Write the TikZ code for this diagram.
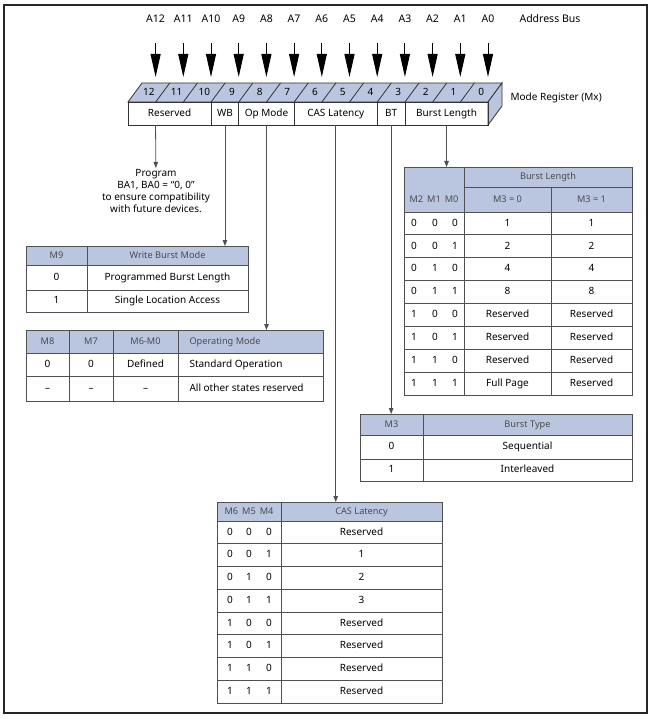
\documentclass[tikz,border=0pt]{standalone}
\usepackage{fontspec}
\setmainfont{Noto Sans}
\usetikzlibrary{arrows.meta, positioning, calc}
\definecolor{regblue}{RGB}{186,198,224}
\definecolor{rulegray}{RGB}{80,80,80}
\definecolor{hdrtext}{RGB}{75,75,75}

\begin{document}
\begin{tikzpicture}[x=1pt, y=-1pt, font=\fontsize{10}{12}\selectfont,
    every node/.style={text height=7.5pt, text depth=2pt},
    addr/.style={font=\fontsize{10.5}{12}\selectfont},
    regcell/.style={draw=black!80, line width=0.8pt, minimum height=23pt, inner sep=0pt, outer sep=0pt},
    tbl/.style={draw=rulegray, line width=0.8pt, inner sep=0pt, outer sep=0pt, anchor=north west},
    hd/.style={text=hdrtext, font=\fontsize{9.2}{11}\selectfont},
    rule/.style={draw=rulegray, line width=0.8pt},
    busline/.style={draw, line width=1pt, -{Triangle[length=23pt,width=10pt]}},
    line/.style={draw=rulegray, line width=0.8pt, -{Triangle[length=6pt,width=4.5pt]}}]

    \useasboundingbox (0,0) rectangle (654,719);
    \draw[line width=2pt, draw=black!85] (4,5) rectangle (647,713);

    \foreach \b in {0,...,12} {
        \node[addr] (a\b) at ({488-27.7*\b}, 20) {A\b};
        \draw[busline] ($(a\b)+(0,23)$) -- ($(a\b)+(0,57)$);
    }
    \node[addr, anchor=west] (abus) at (516,20) {Address Bus};

    \filldraw[fill=regblue, draw=black!80, line width=0.8pt] (128,102) -- (142,83) -- (502,83) -- (488,102) -- cycle;
    \filldraw[fill=regblue, draw=black!80, line width=0.8pt] (488,102) -- (502,83) -- (502,106) -- (488,125) -- cycle;
    \foreach \k in {1,...,12}
        \draw[draw=black!80, line width=0.8pt] ({128+27.7*\k},102) -- ++(14,-19);
    \foreach \k in {0,...,12} {
        \pgfmathtruncatemacro{\bit}{12-\k}
        \node at ({128+27.7*\k+20.85}, 92.5) {\bit};
    }

    \node[regcell, minimum width=83.1pt, anchor=north west] (rsv) at (128,102) {Reserved};
    \node[regcell, minimum width=27.7pt, right=0pt of rsv] (wb) {WB};
    \node[regcell, minimum width=55.4pt, right=0pt of wb] (opm) {Op Mode};
    \node[regcell, minimum width=83.1pt, right=0pt of opm] (cas) {CAS Latency};
    \node[regcell, minimum width=27.7pt, right=0pt of cas] (bt) {BT};
    \node[regcell, minimum width=83.1pt, right=0pt of bt] (bl) {Burst Length};
    \node[anchor=west] (mreg) at (507,98) {Mode Register (Mx)};

    \node[align=center, anchor=north, inner sep=1pt, text height=, text depth=] (prog) at (156,168) {Program\\BA1, BA0 = “0, 0”\\to ensure compatibility\\with future devices.};
    \draw[line] ([xshift=-14pt]rsv.south) -- (prog);

    \fill[regblue] (26,246) rectangle (248,265);
    \node[tbl, minimum width=222pt, minimum height=66pt] (wbt) at (26,246) {};
    \draw[rule] (26,265) -- (248,265) (26,290) -- (248,290) (87,246) -- (87,312);
    \node[hd] at (56.5,255.5) {M9};
    \node[hd] at (167.5,255.5) {Write Burst Mode};
    \node at (56.5,277.5) {0};
    \node at (167.5,277.5) {Programmed Burst Length};
    \node at (56.5,301) {1};
    \node at (167.5,301) {Single Location Access};
    \draw[line] (wb) -- (wb |- wbt.north);

    \fill[regblue] (26,330) rectangle (323,353);
    \node[tbl, minimum width=297pt, minimum height=71pt] (opt) at (26,330) {};
    \draw[rule] (26,353) -- (323,353) (26,376) -- (323,376)
        (69,330) -- (69,401) (113,330) -- (113,401) (178,330) -- (178,401);
    \node[hd] at (47.5,341.5) {M8};
    \node[hd] at (91,341.5) {M7};
    \node[hd] at (145.5,341.5) {M6-M0};
    \node[hd, anchor=west] at (186,341.5) {Operating Mode};
    \node at (47.5,364.5) {0};
    \node at (91,364.5) {0};
    \node at (145.5,364.5) {Defined};
    \node[anchor=west] at (186,364.5) {Standard Operation};
    \node at (47.5,388.5) {–};
    \node at (91,388.5) {–};
    \node at (145.5,388.5) {–};
    \node[anchor=west] at (186,388.5) {All other states reserved};
    \draw[line] (opm) -- (opm |- opt.north);

    \fill[regblue] (404,167) rectangle (632,212);
    \node[tbl, minimum width=228pt, minimum height=228pt] (blt) at (404,167) {};
    \draw[rule] (464,187) -- (632,187) (404,212) -- (632,212)
        (464,167) -- (464,395) (551,187) -- (551,395);
    \foreach \i in {1,...,7}
        \draw[rule] (404,{212+22.875*\i}) -- (632,{212+22.875*\i});
    \node[hd] at (548,177) {Burst Length};
    \node[hd] at (434,200) {M2\hspace{4pt}M1\hspace{4pt}M0};
    \node[hd] at (507.5,200) {M3 = 0};
    \node[hd] at (591.5,200) {M3 = 1};
    \foreach \ma/\mb/\mc/\p/\q [count=\i from 0] in {0/0/0/1/1, 0/0/1/2/2, 0/1/0/4/4, 0/1/1/8/8,
        1/0/0/Reserved/Reserved, 1/0/1/Reserved/Reserved, 1/1/0/Reserved/Reserved, 1/1/1/Full Page/Reserved} {
        \node at (414,{223.4+22.875*\i}) {\ma};
        \node at (435,{223.4+22.875*\i}) {\mb};
        \node at (455,{223.4+22.875*\i}) {\mc};
        \node at (507.5,{223.4+22.875*\i}) {\p};
        \node at (591.5,{223.4+22.875*\i}) {\q};
    }
    \draw[line] (bl) -- (bl |- blt.north);

    \fill[regblue] (360,414) rectangle (632,435);
    \node[tbl, minimum width=272pt, minimum height=67pt] (btt) at (360,414) {};
    \draw[rule] (360,435) -- (632,435) (360,459) -- (632,459) (423,414) -- (423,481);
    \node[hd] at (391.5,424.5) {M3};
    \node[hd] at (527.5,424.5) {Burst Type};
    \node at (391.5,447) {0};
    \node at (527.5,447) {Sequential};
    \node at (391.5,470) {1};
    \node at (527.5,470) {Interleaved};
    \draw[line] (bt) -- (bt |- btt.north);

    \fill[regblue] (217,502) rectangle (442,521);
    \node[tbl, minimum width=225pt, minimum height=201pt] (cast) at (217,502) {};
    \draw[rule] (217,521) -- (442,521) (281,502) -- (281,703);
    \foreach \i in {1,...,7}
        \draw[rule] (217,{521+22.75*\i}) -- (442,{521+22.75*\i});
    \node[hd] at (249,511.5) {M6\hspace{4pt}M5\hspace{4pt}M4};
    \node[hd] at (361.5,511.5) {CAS Latency};
    \foreach \ma/\mb/\mc/\p [count=\i from 0] in {0/0/0/Reserved, 0/0/1/1, 0/1/0/2, 0/1/1/3,
        1/0/0/Reserved, 1/0/1/Reserved, 1/1/0/Reserved, 1/1/1/Reserved} {
        \node at (230,{532.4+22.75*\i}) {\ma};
        \node at (249,{532.4+22.75*\i}) {\mb};
        \node at (269,{532.4+22.75*\i}) {\mc};
        \node at (361.5,{532.4+22.75*\i}) {\p};
    }
    \draw[line] (cas) -- (cas |- cast.north);
\end{tikzpicture}
\end{document}
